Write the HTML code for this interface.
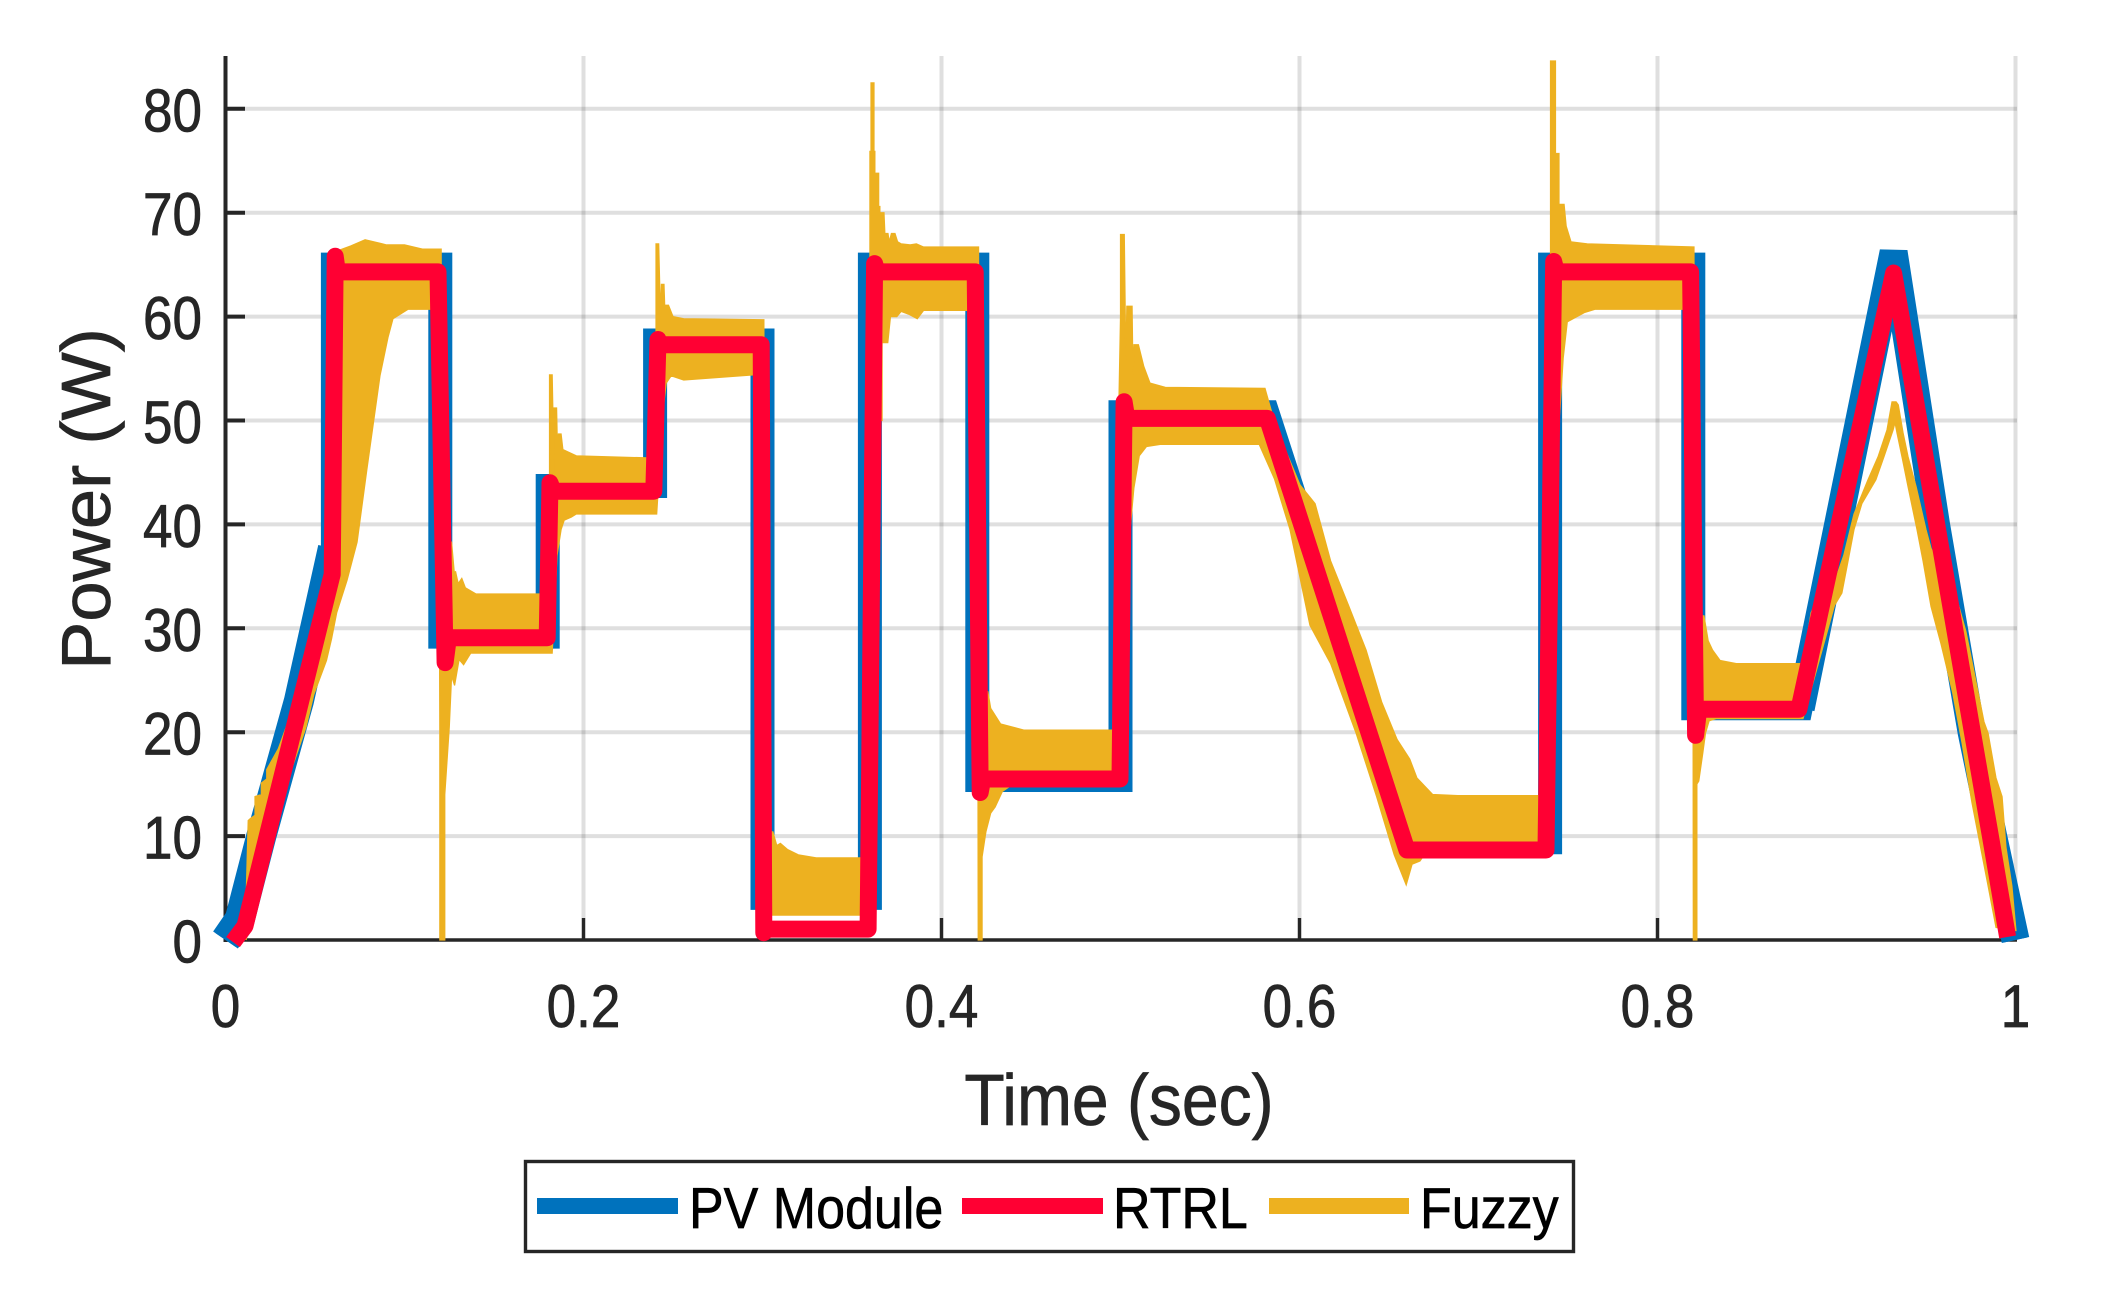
<!DOCTYPE html>
<html lang="en">
<head>
<meta charset="utf-8">
<title>Power vs Time</title>
<style>
html,body{margin:0;padding:0;background:#fff;}
svg{display:block;}
text{font-family:"Liberation Sans",Arial,sans-serif;}
</style>
</head>
<body>
<svg id="chart" xmlns="http://www.w3.org/2000/svg" width="2117" height="1308" viewBox="0 0 2117 1308">
  <rect width="2117" height="1308" fill="#ffffff"/>
  <g id="grid"></g>
  <g id="axes"></g>
  <g id="series"></g>
  <g id="labels"></g>
  <text transform="translate(1119,1125) scale(1,1.09)" font-size="66" text-anchor="middle" fill="#262626" stroke="#262626" stroke-width="0.7">Time (sec)</text>
  <text transform="translate(110,499) rotate(-90) scale(1.034,1)" font-size="70" text-anchor="middle" fill="#262626" stroke="#262626" stroke-width="0.7">Power (W)</text>
  <g>
    <rect x="525.5" y="1161.5" width="1048" height="90" fill="#ffffff" stroke="#262626" stroke-width="3.4"/>
    <rect x="537" y="1198" width="141" height="16" fill="#0072BD"/>
    <text transform="translate(689,1228) scale(1,1.11)" font-size="52" fill="#000000" stroke="#000000" stroke-width="0.6">PV Module</text>
    <rect x="962" y="1198" width="141" height="16" fill="#FF0033"/>
    <text transform="translate(1113,1228) scale(1,1.11)" font-size="52" fill="#000000" stroke="#000000" stroke-width="0.6">RTRL</text>
    <rect x="1269" y="1198" width="140" height="16" fill="#EDB120"/>
    <text transform="translate(1420,1228) scale(1,1.11)" font-size="52" fill="#000000" stroke="#000000" stroke-width="0.6">Fuzzy</text>
  </g>
</svg>
<script>
// Axis tick values and labels
const xTicks = [0, 0.2, 0.4, 0.6, 0.8, 1];
const xTickLabels = ['0', '0.2', '0.4', '0.6', '0.8', '1'];
const yTicks = [0, 10, 20, 30, 40, 50, 60, 70, 80];
const yTickLabels = ['0', '10', '20', '30', '40', '50', '60', '70', '80'];

// PV Module series
const pvTime = [0, 0.008, 0.02, 0.041, 0.06, 0.06, 0.12, 0.12, 0.18, 0.18, 0.24, 0.24, 0.30, 0.30, 0.36, 0.36, 0.42, 0.42, 0.50, 0.50, 0.582, 0.66, 0.74, 0.74, 0.82, 0.82, 0.88, 0.9319, 0.9556, 0.9755, 0.9875, 1];
const pvPower = [0, 2, 10, 23, 37.7, 65, 65, 29.2, 29.2, 43.7, 43.7, 57.7, 57.7, 4.05, 4.05, 65, 65, 15.4, 15.4, 50.8, 50.8, 9.4, 9.4, 65, 65, 22.3, 22.3, 66.2, 40, 20, 10, 0];

// RTRL series
const rtrlTime = [0.0042, 0.0109, 0.0233, 0.0377, 0.0596, 0.0613, 0.0625, 0.1187, 0.1227, 0.1245, 0.1797, 0.1813, 0.183, 0.2393, 0.2416, 0.243, 0.2993, 0.3007, 0.302, 0.359, 0.3626, 0.364, 0.4188, 0.4216, 0.423, 0.4997, 0.502, 0.5035, 0.582, 0.66, 0.7377, 0.742, 0.7435, 0.8185, 0.8213, 0.823, 0.879, 0.9319, 0.9754, 0.9865, 0.9956];
const rtrlPower = [-0.2, 1.35, 10, 20, 35.2, 65.8, 64.3, 64.3, 26.7, 29.1, 29.1, 44, 43.2, 43.2, 57.8, 57.3, 57.3, 0.7, 1.05, 1.05, 65.1, 64.3, 64.3, 14.2, 15.5, 15.5, 51.8, 50.2, 50.2, 8.66, 8.66, 65.3, 64.3, 64.3, 19.7, 22.2, 22.2, 64.2, 20.5, 9.5, 0.3];

// Fuzzy series: upper envelope of the oscillation
const fuzzyUpperTime = [
  0.0115, 0.0127, 0.014, 0.0165, 0.0165, 0.02, 0.02, 0.023, 0.023, 0.0295, 0.035, 0.045, 0.06,
  0.0605, 0.07, 0.078, 0.09, 0.1, 0.11, 0.1205, 0.1205,
  0.1263, 0.128, 0.1285, 0.13, 0.132, 0.134, 0.137, 0.14, 0.176, 0.181,
  0.181, 0.1825, 0.1835, 0.1835, 0.185, 0.1855, 0.186, 0.1875, 0.1885, 0.191, 0.196, 0.236, 0.2405,
  0.2405, 0.242, 0.243, 0.2435, 0.245, 0.2455, 0.246, 0.2475, 0.25, 0.256, 0.3008, 0.3012, 0.3035,
  0.3035, 0.3058, 0.308, 0.31, 0.314, 0.32, 0.33, 0.3555, 0.36,
  0.36, 0.3606, 0.3606, 0.3623, 0.3623, 0.3628, 0.3628, 0.3649, 0.3649, 0.3656, 0.3656, 0.3679, 0.3685, 0.369, 0.3701, 0.3708, 0.372, 0.374, 0.3755, 0.3775, 0.3825, 0.386, 0.39, 0.4207,
  0.4207, 0.4259, 0.4275, 0.433, 0.446, 0.4957, 0.5,
  0.5, 0.5021, 0.503, 0.5035, 0.5065, 0.507, 0.5075, 0.51, 0.513, 0.5165, 0.525, 0.5807,
  0.5848, 0.5925, 0.6003, 0.6087, 0.6174, 0.6274, 0.6372, 0.6459, 0.6545, 0.6616, 0.6656, 0.6744, 0.6885, 0.7348, 0.7402,
  0.7402, 0.743, 0.743, 0.745, 0.745, 0.7456, 0.7456, 0.7478, 0.749, 0.7517, 0.7607, 0.8204,
  0.8204, 0.826, 0.8283, 0.8308, 0.835, 0.844, 0.8803, 0.8815, 0.8858, 0.889,
  0.899, 0.904, 0.9098, 0.9176, 0.9232, 0.9282, 0.931, 0.9333,
  0.9345, 0.9372, 0.94, 0.9445, 0.95, 0.9528, 0.9682, 0.9723, 0.978, 0.9824, 0.9847, 0.9891, 0.9925, 0.9947, 0.998, 1.0003
];
const fuzzyUpperPower = [
  4, 11.5, 11.7, 12, 13.8, 14, 15.1, 15.5, 16.4, 18.4, 21, 26, 33,
  66.2, 66.8, 67.4, 66.9, 66.9, 66.5, 66.5, 38.3,
  38.3, 35, 35.5, 34.3, 34.8, 33.9, 33.6, 33.3, 33.3, 33.3,
  54.4, 54.4, 45, 51.2, 51.2, 47, 48.7, 48.7, 47.2, 47, 46.6, 46.4, 46.4,
  67, 67, 60, 63.1, 63.1, 60.5, 61.1, 61.1, 60, 59.8, 59.7, 5, 5,
  10.4, 10.4, 9.1, 9.3, 8.7, 8.2, 7.9, 7.9, 60,
  75.9, 75.9, 82.5, 82.5, 75.9, 75.9, 73.8, 73.8, 70.6, 70.6, 70, 70, 67.5, 68, 68, 67.2, 68, 68, 67.2, 67, 66.9, 67, 66.7, 66.7,
  23.9, 23.9, 22.3, 20.8, 20.2, 20.2, 60,
  67.9, 67.9, 55, 61, 61, 54, 57.3, 57.3, 55.2, 53.6, 53.2, 53.1,
  50.6, 47, 43.8, 42, 36.5, 32.2, 27.9, 22.9, 19.3, 17.4, 15.6, 14, 13.9, 13.9, 60,
  84.6, 84.6, 75.7, 75.7, 68, 68, 70.8, 70.8, 68.7, 67.2, 67, 66.7,
  31.2, 31.2, 28.8, 27.9, 26.9, 26.6, 26.6, 27, 31.5, 32.7,
  34.5, 37, 41, 44.3, 46.5, 49.1, 51.8, 51.8,
  51.5, 48.8, 46.5, 43.6, 39.5, 37.7, 32.2, 29.7, 24.8, 21, 19.9, 15.6, 13.8, 8.9, 5.2, 0.9
];

// Fuzzy series: lower envelope of the oscillation
const fuzzyLowerTime = [
  0.0115, 0.03, 0.045, 0.0493, 0.0564, 0.0593, 0.0621, 0.0679, 0.0735, 0.079, 0.0863, 0.0908, 0.0936, 0.102, 0.1155, 0.119, 0.1197, 0.1197, 0.1225, 0.1225, 0.125, 0.1263, 0.128, 0.1305, 0.133, 0.137, 0.1807, 0.1825,
  0.1852, 0.1875, 0.1892, 0.1932, 0.196, 0.2409, 0.2446, 0.2462, 0.249, 0.256, 0.2958, 0.3, 0.302, 0.3555, 0.36, 0.3625,
  0.3656, 0.3668, 0.3668, 0.37, 0.3715, 0.375, 0.3775, 0.382, 0.3865, 0.39, 0.4153, 0.42, 0.4205, 0.4227, 0.4227, 0.4248, 0.4275, 0.43, 0.434, 0.44, 0.4957, 0.4985,
  0.5057, 0.5075, 0.5105, 0.5145, 0.5222, 0.5775, 0.586, 0.5947, 0.6058, 0.6174, 0.6316, 0.6431, 0.6529, 0.6596, 0.6629, 0.6673, 0.672, 0.7348, 0.74, 0.7456, 0.7473, 0.7496, 0.7594, 0.765, 0.8148, 0.8198, 0.82, 0.822, 0.822, 0.8231, 0.8253, 0.8268, 0.8288, 0.8327, 0.8813,
  0.8989, 0.903, 0.9065, 0.9098, 0.9142, 0.922, 0.9265, 0.9316, 0.9327, 0.9338, 0.9366, 0.94, 0.945, 0.9483, 0.9528, 0.9584, 0.9648, 0.9701, 0.9757, 0.9847, 0.9891, 1.0003
];
const fuzzyLowerPower = [
  0, 13, 20.5, 23.6, 26.9, 29, 31.5, 34.6, 38.3, 45.3, 54.3, 58, 59.8, 60.7, 60.7, 60.7, 20, 0, 0, 14, 20.5, 25.4, 24.5, 27, 26.5, 27.6, 27.6, 27.6,
  37, 39.5, 40.4, 40.7, 41, 41, 51.2, 53.6, 54.3, 53.9, 54.4, 10, 2.4, 2.4, 40, 50,
  50, 50, 57.5, 57.5, 60, 60, 60.5, 60.2, 59.8, 60.6, 60.6, 60, 0, 0, 8, 10.4, 12.2, 12.8, 14.3, 15, 15, 30,
  40.1, 43.5, 46.6, 47.5, 47.7, 47.7, 44.4, 39.5, 30.3, 26.6, 19.9, 13.8, 8.2, 5.3, 7.3, 7.6, 8.8, 8.8, 40, 51.2, 56, 59.5, 60.4, 60.7, 60.7, 40, 0, 0, 15, 15.3, 18, 19.9, 21.1, 21.3, 21.3,
  32.2, 33.4, 36.5, 39.5, 42, 44.3, 46.5, 49.1, 49.8, 48.8, 46.5, 43.6, 39.5, 36.5, 32.1, 28.5, 23.9, 19, 13.2, 5.2, 1.2, 0.9
];

// Axis functions
const xScale = t => 225.5 + 1790 * t;
const yScale = v => 940 - 10.39 * v;

const NS = 'http://www.w3.org/2000/svg';
const makeEl = (tag, parent, attrs) => {
  const el = document.createElementNS(NS, tag);
  Object.keys(attrs).forEach(k => el.setAttribute(k, attrs[k]));
  parent.appendChild(el);
  return el;
};

const gridG = document.getElementById('grid');
const axesG = document.getElementById('axes');
const labelsG = document.getElementById('labels');
const seriesG = document.getElementById('series');

xTicks.forEach((t, i) => {
  const gl = makeEl('line', gridG, {x1: xScale(t), x2: xScale(t), y1: 56, y2: 940, stroke: '#262626', 'stroke-opacity': 0.15, 'stroke-width': 4});
  
  
  if (t > 0) {
    const tk = makeEl('line', axesG, {x1: xScale(t), x2: xScale(t), y1: 940, y2: 918, stroke: '#262626', 'stroke-width': 3.4});
    
    
  }
  const lb = makeEl('text', labelsG, {transform: 'translate(' + xScale(t) + ',1027) scale(1,1.14)', 'font-size': 53, 'text-anchor': 'middle', fill: '#262626', stroke: '#262626', 'stroke-width': 0.7});
  lb.textContent = xTickLabels[i];
  
  
});

yTicks.forEach((v, i) => {
  if (v > 0) {
    const gl = makeEl('line', gridG, {x1: 226, x2: 2017, y1: yScale(v), y2: yScale(v), stroke: '#262626', 'stroke-opacity': 0.15, 'stroke-width': 4});
    
    
    const tk = makeEl('line', axesG, {x1: 226, x2: 245, y1: yScale(v), y2: yScale(v), stroke: '#262626', 'stroke-width': 4});
    
    
  }
  const lb = makeEl('text', labelsG, {transform: 'translate(202,' + (yScale(v) + 22.5) + ') scale(1,1.14)', 'font-size': 53, 'text-anchor': 'end', fill: '#262626', stroke: '#262626', 'stroke-width': 0.7});
  lb.textContent = yTickLabels[i];
  
  
});

const yAxisLine = makeEl('line', axesG, {x1: 225.5, x2: 225.5, y1: 56, y2: 942, stroke: '#262626', 'stroke-width': 4});


const xAxisLine = makeEl('line', axesG, {x1: 224, x2: 2017, y1: 940, y2: 940, stroke: '#262626', 'stroke-width': 3.4});



const toPoints = (times, powers) => times.map((t, i) => xScale(t).toFixed(1) + ',' + yScale(powers[i]).toFixed(1));

const pvLine = makeEl('polyline', seriesG, {points: toPoints(pvTime, pvPower).join(' '), fill: 'none', stroke: '#0072BD', 'stroke-width': 24, 'stroke-linejoin': 'miter', 'stroke-miterlimit': 4});



// The sloped parts of the PV trace render wider than its flat parts
const pvStartRamp = makeEl('polyline', seriesG, {points: toPoints(pvTime.slice(0, 5), pvPower.slice(0, 5)).join(' '), fill: 'none', stroke: '#0072BD', 'stroke-width': 30, 'stroke-linejoin': 'round'});


const pvPeakRamp = makeEl('polyline', seriesG, {points: toPoints(pvTime.slice(26), pvPower.slice(26)).join(' '), fill: 'none', stroke: '#0072BD', 'stroke-width': 28, 'stroke-linejoin': 'miter', 'stroke-miterlimit': 3});



const fuzzyUpperPts = toPoints(fuzzyUpperTime, fuzzyUpperPower);
const fuzzyLowerPts = toPoints(fuzzyLowerTime, fuzzyLowerPower).reverse();
const fuzzyBand = makeEl('polygon', seriesG, {points: fuzzyUpperPts.concat(fuzzyLowerPts).join(' '), fill: '#EDB120', stroke: '#EDB120', 'stroke-width': 1.2});



const rtrlLine = makeEl('polyline', seriesG, {points: toPoints(rtrlTime, rtrlPower).join(' '), fill: 'none', stroke: '#FF0033', 'stroke-width': 17, 'stroke-linejoin': 'round', 'stroke-linecap': 'butt'});


</script>
</body>
</html>
